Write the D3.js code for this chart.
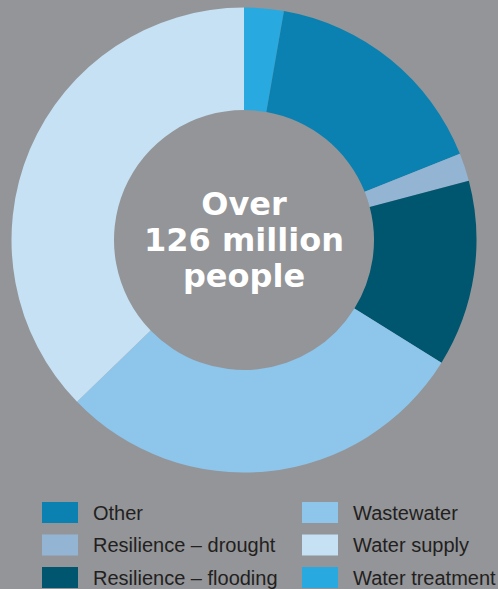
<!DOCTYPE html>
<html>
<head>
<meta charset="utf-8">
<script src="https://cdn.jsdelivr.net/npm/d3@7"></script>
<style>
  html, body { margin: 0; padding: 0; background: #939598; }
  svg { display: block; }
</style>
</head>
<body>
<div id="chart"></div>
<script>
// Share of people (%) by category, drawn clockwise from 12 o'clock.
const sliceOrder = ['Water treatment', 'Other', 'Resilience \u2013 drought', 'Resilience \u2013 flooding', 'Wastewater', 'Water supply'];
const sliceValues = [2.75, 16.2, 1.95, 12.95, 28.9, 37.25];
const sliceColors = ['#28a9e0', '#0a81b1', '#93b5d3', '#00566f', '#8ec5ea', '#c6e0f4'];

// Legend is laid out in two columns.
const legendOrder = ['Other', 'Resilience \u2013 drought', 'Resilience \u2013 flooding', 'Wastewater', 'Water supply', 'Water treatment'];
const centerLines = ['Over', '126 million', 'people'];

(function(){
  const width = 498, height = 589;
  const cx = 244, cy = 240;
  const outerR = 232.5, innerR = 130;

  const svg = d3.select('#chart').append('svg')
    .attr('width', width)
    .attr('height', height);

  svg.append('rect').attr('width', width).attr('height', height).attr('fill', '#939598');

  const data = sliceOrder.map((name, i) => ({name, value: sliceValues[i]}));
  const color = d3.scaleOrdinal(sliceOrder, sliceColors);

  const pie = d3.pie().sort(null).value(d => d.value);
  const arc = d3.arc().innerRadius(innerR).outerRadius(outerR);

  const g = svg.append('g').attr('transform', `translate(${cx},${cy})`);

  g.selectAll('path.slice')
    .data(pie(data))
    .join('path')
    .attr('class', 'slice')
    .attr('d', arc)
    .attr('fill', d => color(d.data.name));

  // Centre label
  g.selectAll('text.center')
    .data(centerLines)
    .join('text')
    .attr('class', 'center')
    .attr('x', 0)
    .attr('y', (d, i) => -25 + i * 36)
    .attr('text-anchor', 'middle')
    .attr('fill', '#ffffff')
    .attr('font-family', '"DejaVu Sans", sans-serif')
    .attr('font-weight', 'bold')
    .attr('font-size', 32)
    .text(d => d);

  // Legend
  const colX = [42, 302];
  const rowY = [502, 534.5, 567];
  const legend = svg.append('g').attr('class', 'legend');
  const items = legend.selectAll('g.item')
    .data(legendOrder)
    .join('g')
    .attr('class', 'item')
    .attr('transform', (d, i) => `translate(${colX[Math.floor(i / 3)]},${rowY[i % 3]})`);

  items.append('rect')
    .attr('width', 36)
    .attr('height', 21)
    .attr('fill', d => color(d));

  items.append('text')
    .attr('x', 51)
    .attr('y', 17.5)
    .attr('fill', '#231f20')
    .attr('font-family', '"Liberation Sans", Arial, sans-serif')
    .attr('font-size', 20)
    .text(d => d);
})();
</script>
</body>
</html>
